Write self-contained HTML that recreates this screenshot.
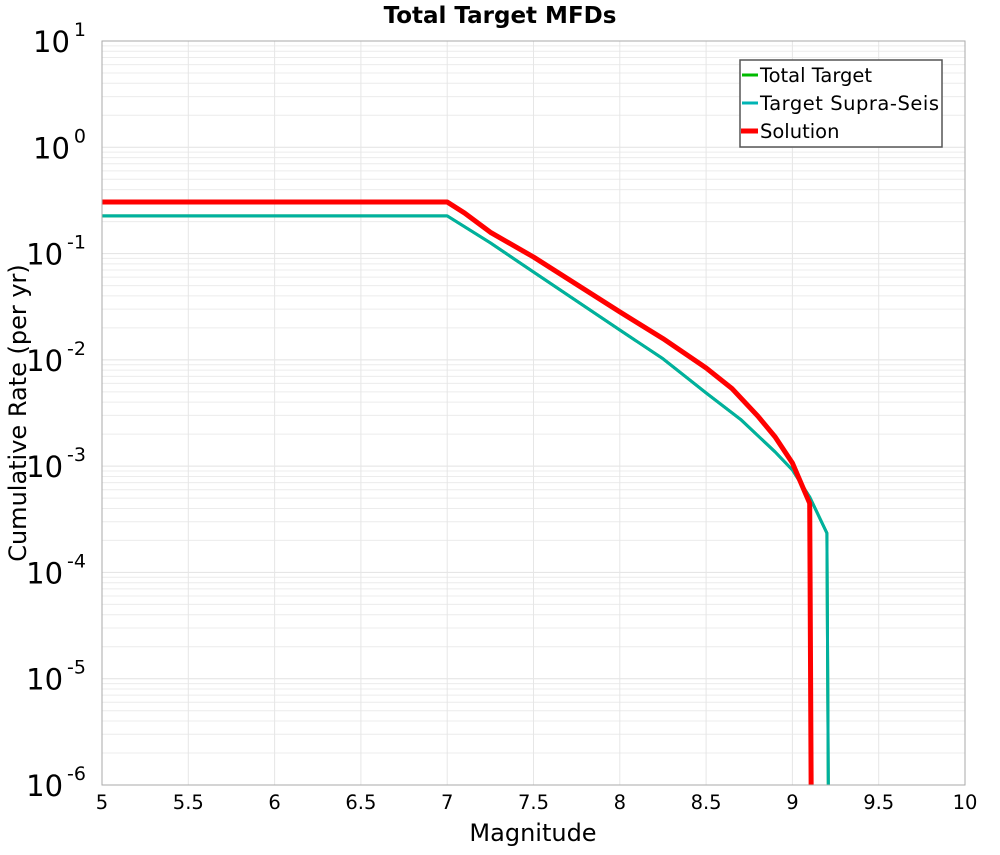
<!DOCTYPE html>
<html><head><meta charset="utf-8"><style>
body{margin:0;background:#fff;}
svg text{font-family:"DejaVu Sans","Liberation Sans",sans-serif;}
</style></head><body>
<svg id="chart" width="1000" height="850" xmlns="http://www.w3.org/2000/svg">
<text x="500" y="23" text-anchor="middle" font-size="23" font-weight="bold">Total Target MFDs</text>
<g id="grid"></g>
<g id="series"></g>
<rect x="102" y="41" width="863" height="744" fill="none" stroke="#aaa" stroke-width="1"/>
<g id="ticks"></g>
<text x="533" y="841" text-anchor="middle" font-size="24">Magnitude</text>
<text transform="translate(26,413) rotate(-90)" text-anchor="middle" font-size="24">Cumulative Rate (per yr)</text>
<g>
<rect x="740" y="60" width="202" height="87" fill="#fff" stroke="#555" stroke-width="1.5"/>
<line x1="742" y1="75" x2="758" y2="75" stroke="#00bb00" stroke-width="3"/>
<text x="760" y="82" font-size="19.5">Total Target</text>
<line x1="742" y1="103" x2="758" y2="103" stroke="#00b4b4" stroke-width="3"/>
<text x="760" y="110" font-size="19.5" textLength="179">Target Supra-Seis</text>
<line x1="741" y1="131" x2="758" y2="131" stroke="#ff0000" stroke-width="5"/>
<text x="760" y="138" font-size="19.5">Solution</text>
</g>
</svg>
<script>
const xTicks=[5,5.5,6,6.5,7,7.5,8,8.5,9,9.5,10];
const yExps=[1,0,-1,-2,-3,-4,-5,-6];
const magSupra=[5,7,7.25,7.5,8,8.25,8.5,8.7,8.9,9.0,9.1,9.2,9.21];
const logSupra=[-0.646,-0.646,-0.90,-1.173,-1.719,-1.99,-2.311,-2.56,-2.866,-3.036,-3.29,-3.63,-6.5];
const magTotal=[5,7,7.25,7.5,8,8.25,8.5,8.7,8.9,9.0,9.1,9.2,9.21];
const logTotal=[-0.646,-0.646,-0.90,-1.173,-1.719,-1.99,-2.311,-2.56,-2.866,-3.036,-3.29,-3.63,-6.5];
const magSol=[5,7,7.1,7.25,7.5,8,8.25,8.5,8.65,8.8,8.9,9.0,9.1,9.11];
const logSol=[-0.515,-0.515,-0.618,-0.80,-1.032,-1.549,-1.80,-2.076,-2.27,-2.53,-2.725,-2.97,-3.35,-6.5];
const L=102,R=965,T=41,B=785;
const X=m=>L+(m-5)/5*(R-L);
const Y=lg=>T+(1-lg)/7*(B-T);
const NS="http://www.w3.org/2000/svg";
function mk(tag,attrs,parent){const e=document.createElementNS(NS,tag);for(const k in attrs)e.setAttribute(k,attrs[k]);parent.appendChild(e);return e;}
const grid=document.getElementById('grid');
for(let d=-6;d<1;d++){for(let k=2;k<=9;k++){const y=Y(d+Math.log10(k));
const l=mk('line',{x1:L,x2:R,y1:y,y2:y,stroke:'#ececec','stroke-width':1},grid);

}}
yExps.forEach(e=>{const y=Y(e);const l=mk('line',{x1:L,x2:R,y1:y,y2:y,stroke:'#e2e2e2','stroke-width':1},grid);

});
xTicks.forEach(m=>{const x=X(m);const l=mk('line',{x1:x,x2:x,y1:T,y2:B,stroke:'#e6e6e6','stroke-width':1},grid);

});
const ticks=document.getElementById('ticks');
xTicks.forEach(m=>{const t=mk('text',{x:X(m),y:809,'text-anchor':'middle','font-size':19.5},ticks);t.textContent=String(m);

});
yExps.forEach(e=>{const t=mk('text',{x:86,y:Y(e)+11,'text-anchor':'end','font-size':29},ticks);


t.textContent='10';
const s=mk('tspan',{dx:4,dy:-16,'font-size':19},t);s.textContent=String(e);});
const ser=document.getElementById('series');
ser.setAttribute('clip-path','url(#clip)');
const defs=mk('defs',{},document.getElementById('chart'));
const cp=mk('clipPath',{id:'clip'},defs);mk('rect',{x:L,y:T,width:R-L,height:B-T},cp);
function line(ms,ls,color,w,name){const d=ms.map((m,i)=>(i?'L':'M')+X(m).toFixed(1)+','+Y(ls[i]).toFixed(1)).join(' ');
const p=mk('path',{d:d,fill:'none',stroke:color,'stroke-width':w,'stroke-linejoin':'round'},ser);

}
line(magTotal,logTotal,'#00bb00',3,'total-target-line');
line(magSupra,logSupra,'#00b0a0',3,'target-supra-seis-line');
line(magSol,logSol,'#ff0000',5,'solution-line');
</script>
</body></html>
